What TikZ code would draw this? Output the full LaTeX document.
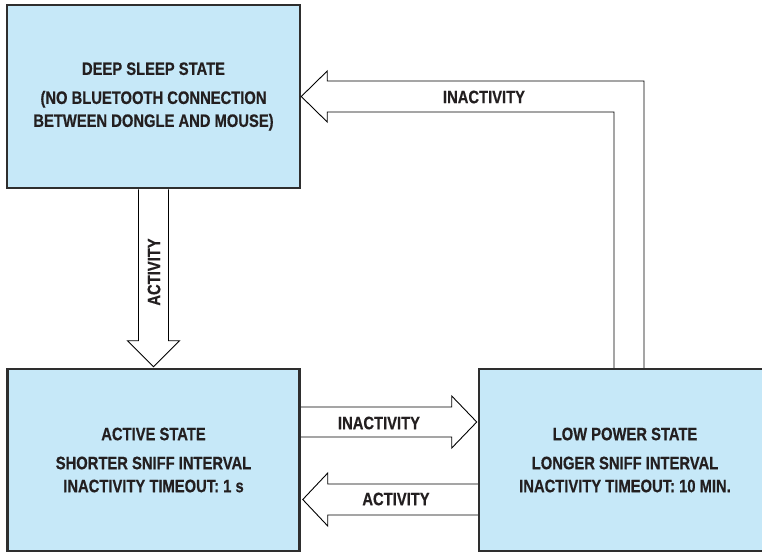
\documentclass[tikz,border=0pt]{standalone}
\usepackage{fontspec}
\setmainfont{Liberation Sans}[FakeStretch=0.82, BoldFeatures={FakeBold=0.5}]
\usetikzlibrary{calc}
\definecolor{statefill}{HTML}{C6E8F8}
\definecolor{ink}{HTML}{231F20}
\definecolor{frame}{HTML}{2E2E2E}

\begin{document}
\begin{tikzpicture}[x=1pt,y=-1pt,
  statebox/.style={draw=frame, line width=2.5pt, fill=statefill,
    minimum width=292pt, minimum height=182pt, inner sep=0pt,
    align=center, text=ink, font=\fontsize{18}{23}\selectfont\bfseries},
  blockarrow/.style={draw=black, line width=0.9pt, line join=miter},
  arrowlabel/.style={text=ink, inner sep=0pt,
    font=\fontsize{18}{20}\selectfont\bfseries}]

\clip (0,0) rectangle (762,552);
\fill[white] (0,0) rectangle (762,552);

% the three states
\node[statebox, minimum width=293pt, minimum height=183pt] (sleep) at (153.5,96.5)
  {DEEP SLEEP STATE\\[6pt](NO BLUETOOTH CONNECTION\\BETWEEN DONGLE AND MOUSE)};
\node[statebox] (active) at (153.5,460)
  {ACTIVE STATE\\[6pt]SHORTER SNIFF INTERVAL\\INACTIVITY TIMEOUT: 1 s};
\node[statebox] (low) at (625,460)
  {LOW POWER STATE\\[6pt]LONGER SNIFF INTERVAL\\INACTIVITY TIMEOUT: 10 MIN.};

% deep sleep -> active (hollow block arrow, downwards)
\draw[blockarrow] ($(sleep.south)+(-15,0)$) -- ($(active.north)+(-15,-27)$)
  -- ($(active.north)+(-26,-27)$) -- ($(active.north)+(0,-1)$)
  -- ($(active.north)+(26,-27)$) -- ($(active.north)+(15,-27)$)
  -- ($(sleep.south)+(15,0)$);
\node[arrowlabel, rotate=90] (lblwake) at (154,272) {ACTIVITY};

% low power -> deep sleep (L-shaped block arrow)
\coordinate (inR) at ($(low.north)+(-11,0)$);
\coordinate (outR) at ($(low.north)+(19,0)$);
\coordinate (shB) at ($(sleep.east)+(26,15.5)$);
\coordinate (shT) at ($(sleep.east)+(26,-15.5)$);
\draw[blockarrow] (inR) -- (inR |- shB) -- (shB) -- ($(shB)+(0,10)$)
  -- (sleep.east) -- ($(shT)+(0,-10)$) -- (shT) -- (outR |- shT) -- (outR);
\node[arrowlabel] (lblsleep) at (484,97) {INACTIVITY};

% active -> low power
\draw[blockarrow] ($(active.east)+(0,-53)$) -- ($(low.west)+(-26,-53)$)
  -- ($(low.west)+(-26,-64)$) -- ($(low.west)+(-1,-38)$)
  -- ($(low.west)+(-26,-12)$) -- ($(low.west)+(-26,-23)$)
  -- ($(active.east)+(0,-23)$);
\node[arrowlabel] (lbldown) at (379,423) {INACTIVITY};

% low power -> active
\draw[blockarrow] ($(low.west)+(0,24)$) -- ($(active.east)+(27,24)$)
  -- ($(active.east)+(27,13)$) -- ($(active.east)+(2,39.5)$)
  -- ($(active.east)+(27,66)$) -- ($(active.east)+(27,55)$)
  -- ($(low.west)+(0,55)$);
\node[arrowlabel] (lblup) at (396,499) {ACTIVITY};

\end{tikzpicture}
\end{document}
